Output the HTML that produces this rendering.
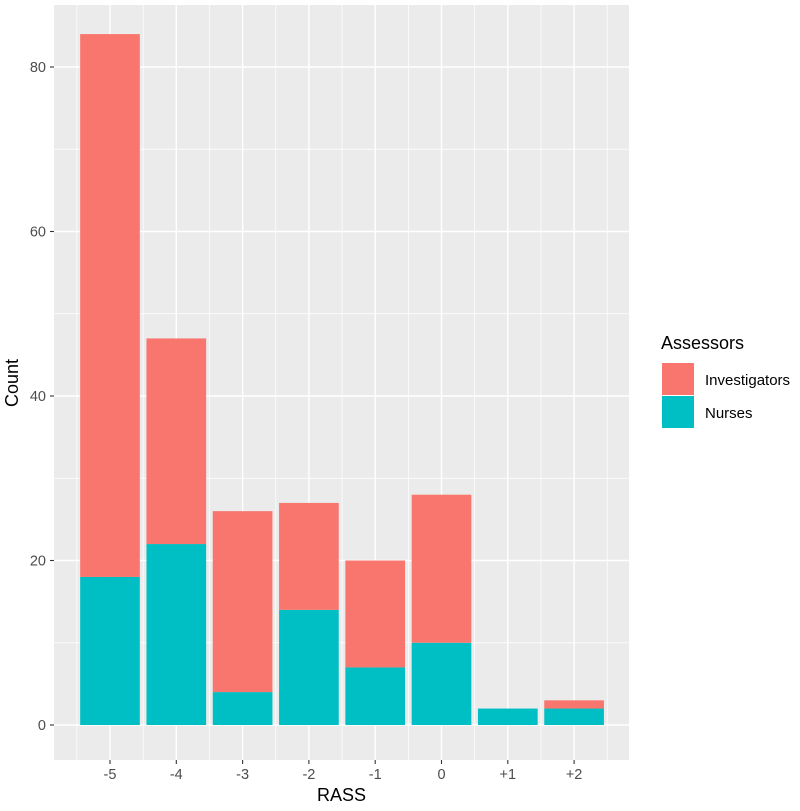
<!DOCTYPE html>
<html><head><meta charset="utf-8"><style>
body{margin:0;background:#fff;font-family:"Liberation Sans",sans-serif}
</style></head><body>
<svg id="c" width="800" height="806" xmlns="http://www.w3.org/2000/svg"></svg>
<script>
const categories=["-5","-4","-3","-2","-1","0","+1","+2"];
const nurses=[18,22,4,14,7,10,2,2];
const investigators=[66,25,22,13,13,18,0,1];
const yTicks=[0,20,40,60,80];
const NS="http://www.w3.org/2000/svg";
const svg=document.getElementById('c');
const L=54,R=629,T=5,B=760;
const x0=110, dx=66.3;
function xs(i){return x0+i*dx;}
function ys(v){return 725-v*8.225;}
function mk(t,a,p){const e=document.createElementNS(NS,t);for(const k in a)e.setAttribute(k,a[k]);(p||svg).appendChild(e);return e;}
const bg=mk('rect',{x:L,y:T,width:R-L,height:B-T,fill:'#EBEBEB'});


for(let v=10;ys(v)>T;v+=20){const l=mk('line',{x1:L,x2:R,y1:ys(v),y2:ys(v),stroke:'#fff','stroke-width':0.7});

}
for(let i=0;i<=categories.length;i++){const xx=xs(i-0.5);const l=mk('line',{x1:xx,x2:xx,y1:T,y2:B,stroke:'#fff','stroke-width':0.7});

}
yTicks.forEach(v=>{const y=ys(v);const l=mk('line',{x1:L,x2:R,y1:y,y2:y,stroke:'#fff','stroke-width':1.4});


const tk=mk('line',{x1:L-4,x2:L,y1:y,y2:y,stroke:'#333','stroke-width':1.1});


const t=mk('text',{x:L-8,y:y+5,'text-anchor':'end','font-size':14.5,fill:'#4D4D4D'});t.textContent=v;

});
categories.forEach((c,i)=>{const x=xs(i);
const l=mk('line',{x1:x,x2:x,y1:T,y2:B,stroke:'#fff','stroke-width':1.4});


const w=dx*0.9;
const n=mk('rect',{x:x-w/2,y:ys(nurses[i]),width:w,height:ys(0)-ys(nurses[i]),fill:'#00BFC4'});


if(investigators[i]>0){const r=mk('rect',{x:x-w/2,y:ys(nurses[i]+investigators[i]),width:w,height:ys(nurses[i])-ys(nurses[i]+investigators[i]),fill:'#F8766D'});

}
const tk=mk('line',{x1:x,x2:x,y1:B,y2:B+4,stroke:'#333','stroke-width':1.1});


const t=mk('text',{x:x,y:B+19,'text-anchor':'middle','font-size':14.5,fill:'#4D4D4D'});t.textContent=c;

});
const xt=mk('text',{x:(L+R)/2,y:801,'text-anchor':'middle','font-size':18,fill:'#000'});xt.textContent='RASS';


const yt=mk('text',{x:0,y:0,'text-anchor':'middle','font-size':18,fill:'#000',transform:'translate(18,383) rotate(-90)'});yt.textContent='Count';


const lt=mk('text',{x:661,y:349,'font-size':18,fill:'#000'});lt.textContent='Assessors';


[['Investigators','#F8766D',363],['Nurses','#00BFC4',396]].forEach(([nm,col,y])=>{
const k=mk('rect',{x:662,y:y,width:32,height:32,fill:col});


const t=mk('text',{x:705,y:y+22,'font-size':15,fill:'#000'});t.textContent=nm;

});
</script>
</body></html>
